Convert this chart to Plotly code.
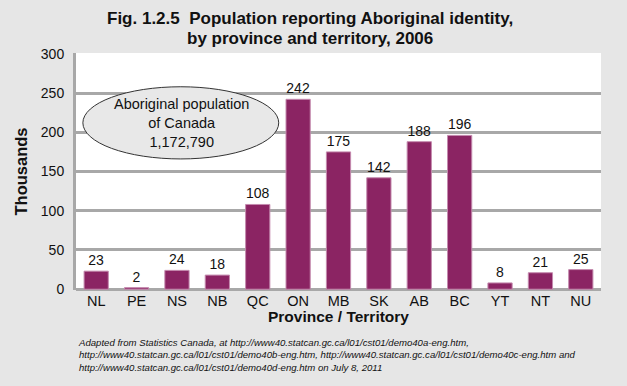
import plotly.graph_objects as go

categories = ["NL", "PE", "NS", "NB", "QC", "ON", "MB", "SK", "AB", "BC", "YT", "NT", "NU"]
values = [23, 2, 24, 18, 108, 242, 175, 142, 188, 196, 8, 21, 25]
y_ticks = [0, 50, 100, 150, 200, 250, 300]

title_line1 = "<b>Fig. 1.2.5  Population reporting Aboriginal identity,</b>"
title_line2 = "<b>by province and territory, 2006</b>"
callout_text = "Aboriginal population<br>of Canada<br>1,172,790"
source_text = ("<i>Adapted from Statistics Canada, at http://www40.statcan.gc.ca/l01/cst01/demo40a-eng.htm,<br>"
               "http://www40.statcan.gc.ca/l01/cst01/demo40b-eng.htm, http://www40.statcan.gc.ca/l01/cst01/demo40c-eng.htm and<br>"
               "http://www40.statcan.gc.ca/l01/cst01/demo40d-eng.htm on July 8, 2011</i>")

FONT = "Liberation Sans, Arial, Helvetica, sans-serif"

fig = go.Figure(go.Bar(
    x=categories, y=values,
    marker=dict(color="#8b2463", line=dict(color="#c48aae", width=1)),
    text=[str(v) for v in values], textposition="outside",
    textfont=dict(size=14, color="#111"),
    cliponaxis=False, width=0.6,
))

fig.update_layout(
    width=627, height=386,
    margin=dict(l=76, r=26, t=53, b=96, autoexpand=False),
    paper_bgcolor="#e6e6e6", plot_bgcolor="#ffffff",
    font=dict(family=FONT, color="#111"),
    showlegend=False,
)
fig.update_xaxes(
    range=[-0.5, 12.5], showgrid=False, ticks="", tickfont=dict(size=14.5),
    title=dict(text="<b>Province / Territory</b>", font=dict(size=15.5), standoff=2),
    showline=False, automargin=False,
)
fig.update_yaxes(
    range=[-1, 301], tickvals=y_ticks, showgrid=True, gridcolor="#a8a8a8", gridwidth=3,
    zeroline=True, zerolinecolor="#a8a8a8", zerolinewidth=3,
    showline=True, linecolor="#a8a8a8", linewidth=3,
    ticks="", tickfont=dict(size=14), ticklabelstandoff=6,
    title=dict(text="<b>Thousands</b>", font=dict(size=16.5), standoff=10),
    automargin=False,
)

fig.add_annotation(xref="paper", yref="paper", x=0.446, y=(290 - 18) / 237,
                   xanchor="center", yanchor="middle", text=title_line1, showarrow=False,
                   font=dict(size=17, color="#111"))
fig.add_annotation(xref="paper", yref="paper", x=0.446, y=(290 - 38) / 237,
                   xanchor="center", yanchor="middle", text=title_line2, showarrow=False,
                   font=dict(size=17, color="#111"))
fig.add_shape(type="circle", xref="x", yref="y", x0=-0.33, x1=4.52, y0=166, y1=258,
              fillcolor="#e8e8e8", line=dict(color="#333", width=1), layer="above")
fig.add_annotation(xref="x", yref="y", x=2.1, y=212, text=callout_text, showarrow=False,
                   font=dict(size=14.5, color="#111"), align="center")
fig.add_annotation(xref="paper", yref="paper", x=0.0, y=-0.19, xanchor="left", yanchor="top",
                   text=source_text, showarrow=False, align="left",
                   font=dict(size=9.6, color="#111"))

fig.write_html("out.html", config={"displayModeBar": False},
               post_script="document.body.style.margin='0';")
